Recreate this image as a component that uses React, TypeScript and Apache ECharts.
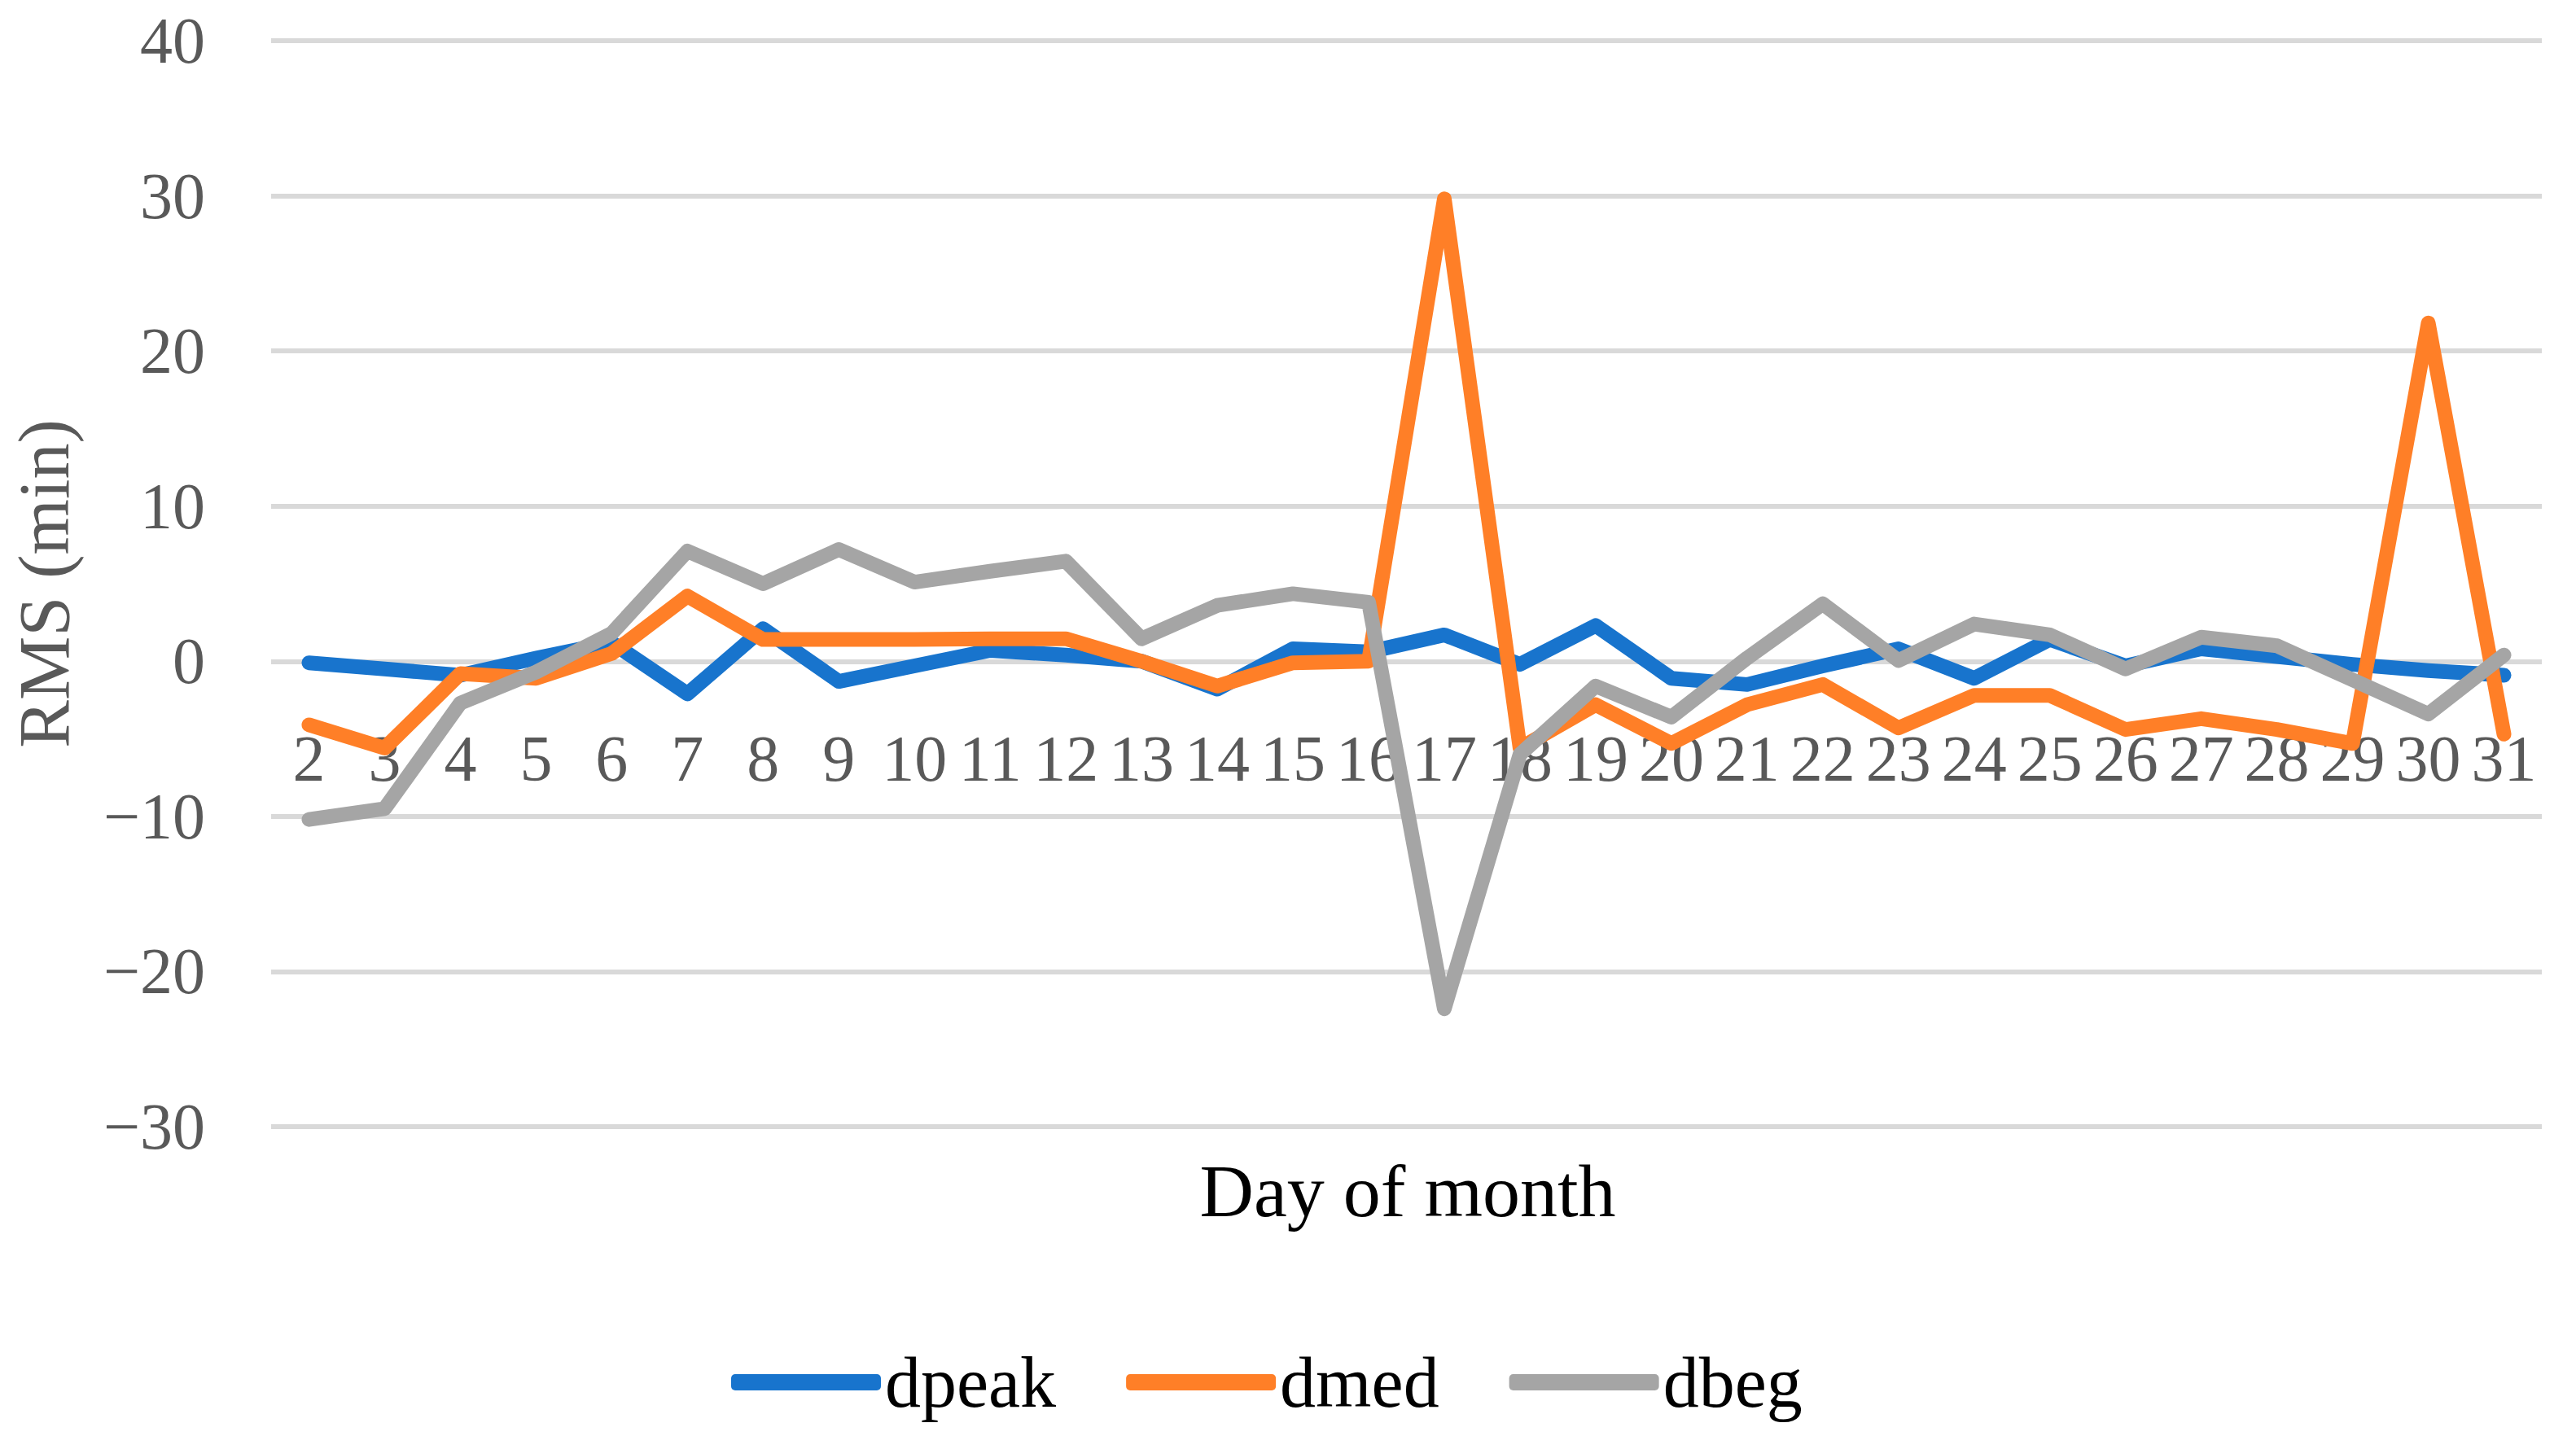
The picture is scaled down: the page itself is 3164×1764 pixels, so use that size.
import React, { useEffect, useRef } from "react";
import * as echarts from "echarts";

const days = ["2","3","4","5","6","7","8","9","10","11","12","13","14","15","16","17","18","19","20","21","22","23","24","25","26","27","28","29","30","31"];
const dpeak = [-0.1,-0.5,-0.9,0.2,1.2,-2.1,2.1,-1.3,-0.3,0.7,0.4,0.0,-1.8,0.8,0.6,1.7,-0.2,2.3,-1.1,-1.5,-0.3,0.8,-1.1,1.4,-0.3,0.8,0.3,-0.2,-0.6,-0.9];
const dmed = [-4.1,-5.6,-0.8,-1.1,0.5,4.2,1.4,1.4,1.4,1.45,1.45,0.0,-1.6,-0.1,0.0,29.8,-5.6,-2.8,-5.3,-2.8,-1.5,-4.3,-2.2,-2.2,-4.4,-3.7,-4.4,-5.3,21.8,-4.7];
const dbeg = [-10.2,-9.5,-2.7,-0.7,1.8,7.1,5.0,7.2,5.1,5.8,6.45,1.45,3.6,4.35,3.8,-22.4,-6.0,-1.6,-3.6,0.2,3.7,0.05,2.4,1.7,-0.5,1.55,1.0,-1.2,-3.4,0.4];
const seriesNames = ["dpeak", "dmed", "dbeg"];
const seriesColors = ["#1874CD", "#FF7F27", "#A5A5A5"];
const xTitle = "Day of month";
const yTitle = "RMS (min)";
const yMin = -30;
const yMax = 40;

const FONT = "'Liberation Serif', serif";

export default function App() {
  const ref = useRef<HTMLDivElement>(null);
  useEffect(() => {
    document.body.style.margin = "0";
    if (!ref.current) return;
    const chart = echarts.init(ref.current, null, { renderer: "svg" });
    const values = [dpeak, dmed, dbeg];
    const gridTop = 50;
    const gridBottom = 380;
    const plotH = 1764 - gridTop - gridBottom;
    // shift the category axis up to the zero line
    const zeroOffset = -(plotH * (0 - yMin)) / (yMax - yMin);
    chart.setOption({
      animation: false,
      backgroundColor: "#ffffff",
      textStyle: { fontFamily: FONT },
      grid: { left: 333, right: 42, top: gridTop, bottom: gridBottom, containLabel: false },
      legend: {
        data: seriesNames,
        left: 893,
        top: 1649,
        itemWidth: 184,
        itemHeight: 20,
        itemGap: 86,
        icon: "roundRect",
        textStyle: { fontFamily: FONT, fontSize: 88, color: "#000000", padding: [0, 0, 0, 0] },
      },
      xAxis: {
        type: "category",
        data: days,
        boundaryGap: true,
        offset: zeroOffset,
        axisLine: { show: false, onZero: false },
        axisTick: { show: false },
        axisLabel: { interval: 0, margin: 80, fontSize: 80, color: "#595959", fontFamily: FONT },
        splitLine: { show: false },
      },
      yAxis: {
        type: "value",
        min: yMin,
        max: yMax,
        interval: 10,
        name: yTitle,
        nameLocation: "middle",
        nameGap: 235,
        nameRotate: 90,
        nameTextStyle: { fontSize: 88, color: "#595959", fontFamily: FONT },
        axisLine: { show: false },
        axisTick: { show: false },
        axisLabel: {
          margin: 81,
          fontSize: 80,
          color: "#595959",
          fontFamily: FONT,
          formatter: (v: number) => String(v).replace("-", "\u2212"),
        },
        splitLine: { lineStyle: { color: "#D9D9D9", width: 6 } },
      },
      graphic: [
        {
          type: "text",
          x: 1729,
          y: 1463,
          style: {
            text: xTitle,
            fontSize: 92,
            fontFamily: FONT,
            fill: "#000000",
            textAlign: "center",
            textVerticalAlign: "middle",
          },
        },
      ],
      series: seriesNames.map((name, i) => ({
        name,
        type: "line",
        data: values[i],
        symbol: "none",
        color: seriesColors[i],
        lineStyle: { width: 18, color: seriesColors[i], cap: "round", join: "round" },
      })),
    });
    return () => chart.dispose();
  }, []);
  return <div ref={ref} style={{ width: 3164, height: 1764 }} />;
}
